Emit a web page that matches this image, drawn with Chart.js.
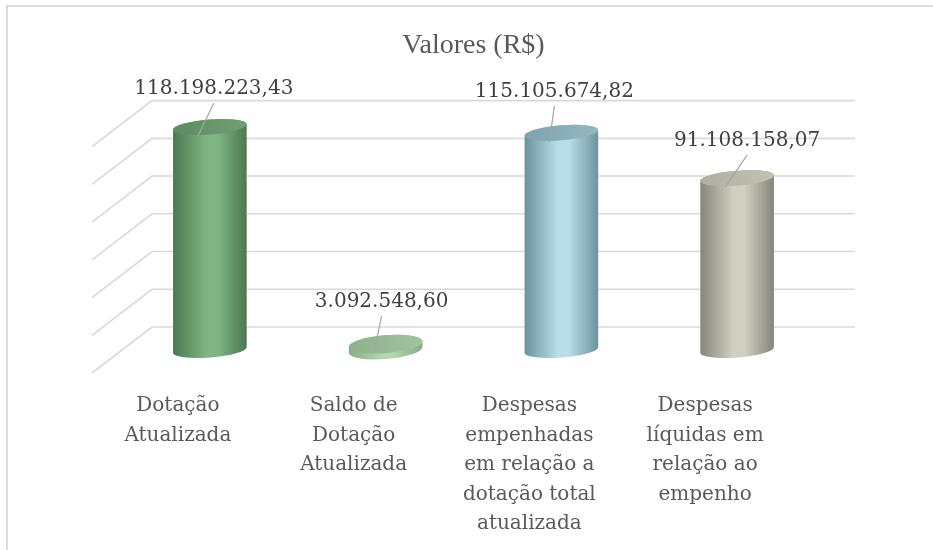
<!DOCTYPE html>
<html lang="pt-BR">
<head>
<meta charset="utf-8">
<title>Valores (R$)</title>
<script src="https://cdn.jsdelivr.net/npm/chart.js@4.4.1/dist/chart.umd.min.js"></script>
<style>
  html, body { margin: 0; padding: 0; background: #fff; }
  #wrap { position: relative; width: 933px; height: 550px; }
</style>
</head>
<body>
<div id="wrap"><canvas id="valoresChart" width="933" height="550"></canvas></div>
<script>
// Dados do gráfico
const categorias = [
    ['Dotação', 'Atualizada'],
    ['Saldo de', 'Dotação', 'Atualizada'],
    ['Despesas', 'empenhadas', 'em relação a', 'dotação total', 'atualizada'],
    ['Despesas', 'líquidas em', 'relação ao', 'empenho']
];
const valores = [118198223.43, 3092548.60, 115105674.82, 91108158.07];
const escalaMin = 0;
const escalaMax = 120000000;
const escalaPasso = 20000000;

// Aparência
const coresCilindro = [
    { borda: '#4b7851', centro: '#7fb585', topo: '#5c8c61', topoClaro: '#6f9f73' },
    { borda: '#86ad86', centro: '#b3d8b1', topo: '#8cb18c', topoClaro: '#9fc49d' },
    { borda: '#6b939e', centro: '#b8dee8', topo: '#7ea3ad', topoClaro: '#93b8c2' },
    { borda: '#85857a', centro: '#cfcfc2', topo: '#afaf9f', topoClaro: '#c2c2b4' }
];
// pequenos ajustes de posição dos rótulos (px), como no original
const ajusteRotulo = [[4, 2], [-4, -2], [-7, -1], [10, 3]];
const profundidade = { dx: 30, dy: 23 };
const GRID_COLOR = '#d9d9d9';

// Formata número no padrão brasileiro: 118.198.223,43
function formatarValor(v) {
    const partes = v.toFixed(2).split('.');
    const inteiro = partes[0].replace(/\B(?=(\d{3})+(?!\d))/g, '.');
    return inteiro + ',' + partes[1];
}

// Moldura (somente topo e esquerda ficam visíveis)
const moldura = {
    id: 'moldura',
    beforeDraw(chart) {
        const ctx = chart.ctx;
        ctx.save();
        ctx.fillStyle = '#ffffff';
        ctx.fillRect(0, 0, chart.width, chart.height);
        ctx.strokeStyle = '#d9d9d9';
        ctx.lineWidth = 2;
        ctx.beginPath();
        ctx.moveTo(7, chart.height + 2);
        ctx.lineTo(7, 6);
        ctx.lineTo(chart.width + 2, 6);
        ctx.stroke();
        ctx.restore();
    }
};

// Linhas de grade em perspectiva (parede de fundo + diagonal lateral)
const grade3d = {
    id: 'grade3d',
    beforeDatasetsDraw(chart) {
        const { ctx, chartArea } = chart;
        const y = chart.scales.y;
        ctx.save();
        ctx.strokeStyle = GRID_COLOR;
        ctx.lineWidth = 1.6;
        for (let v = escalaMin; v <= escalaMax; v += escalaPasso) {
            const py = y.getPixelForValue(v);
            ctx.beginPath();
            ctx.moveTo(chartArea.left - profundidade.dx, py + profundidade.dy);
            ctx.lineTo(chartArea.left + profundidade.dx, py - profundidade.dy);
            ctx.lineTo(chartArea.right + profundidade.dx, py - profundidade.dy);
            ctx.stroke();
        }
        ctx.restore();
    }
};

// Cilindros desenhados sobre as barras (posições vêm das escalas do Chart.js)
const cilindros = {
    id: 'cilindros',
    afterDatasetsDraw(chart) {
        const ctx = chart.ctx;
        const meta = chart.getDatasetMeta(0);
        const rot = -0.08;
        const ry = 7.5;
        meta.data.forEach((bar, i) => {
            const cor = coresCilindro[i];
            const cx = bar.x;
            const rx = bar.width / 2;
            const topo = bar.y;
            const base = bar.base;
            const raioY = (base - topo) < 20 ? 9 : ry;
            const cosR = Math.cos(rot), sinR = Math.sin(rot);

            ctx.save();
            // corpo
            const grad = ctx.createLinearGradient(cx - rx, 0, cx + rx, 0);
            grad.addColorStop(0, cor.borda);
            grad.addColorStop(0.45, cor.centro);
            grad.addColorStop(0.6, cor.centro);
            grad.addColorStop(1, cor.borda);
            ctx.fillStyle = grad;
            ctx.beginPath();
            ctx.moveTo(cx + rx * cosR, topo + rx * sinR);
            ctx.lineTo(cx + rx * cosR, base + rx * sinR);
            ctx.ellipse(cx, base, rx, raioY, rot, 0, Math.PI, false);
            ctx.lineTo(cx - rx * cosR, topo - rx * sinR);
            ctx.ellipse(cx, topo, rx, raioY, rot, Math.PI, 0, false);
            ctx.closePath();
            ctx.fill();

            // tampa
            const gradTopo = ctx.createLinearGradient(cx - rx, 0, cx + rx, 0);
            gradTopo.addColorStop(0, cor.topo);
            gradTopo.addColorStop(1, cor.topoClaro);
            ctx.fillStyle = gradTopo;
            ctx.beginPath();
            ctx.ellipse(cx, topo, rx, raioY, rot, 0, Math.PI * 2);
            ctx.fill();

            // rótulo de dados com linha de chamada
            const lx = cx + ajusteRotulo[i][0];
            const ly = topo - 35 + ajusteRotulo[i][1];
            ctx.strokeStyle = '#a6a6a6';
            ctx.lineWidth = 1.2;
            ctx.beginPath();
            ctx.moveTo(lx, ly + 9);
            ctx.lineTo(cx - 12, topo + 9);
            ctx.stroke();

            ctx.fillStyle = '#404040';
            ctx.font = '20px "DejaVu Serif"';
            ctx.textAlign = 'center';
            ctx.textBaseline = 'alphabetic';
            ctx.fillText(formatarValor(valores[i]), lx, ly);
            ctx.restore();
        });
    }
};

const ctx = document.getElementById('valoresChart').getContext('2d');
const valoresChart = new Chart(ctx, {
    type: 'bar',
    data: {
        labels: categorias,
        datasets: [{
            label: 'Valores (R$)',
            data: valores,
            backgroundColor: 'rgba(0,0,0,0)',
            borderWidth: 0,
            barPercentage: 0.42,
            categoryPercentage: 1
        }]
    },
    options: {
        responsive: false,
        animation: false,
        layout: {
            padding: { left: 122, right: 108, top: 7, bottom: 0 }
        },
        plugins: {
            legend: { display: false },
            tooltip: { enabled: false },
            title: {
                display: true,
                text: 'Valores (R$)',
                color: '#595959',
                font: { family: 'Liberation Serif', size: 28, weight: 'normal', lineHeight: 1.2 },
                padding: { top: 22, bottom: 61 }
            }
        },
        scales: {
            x: {
                grid: { display: false, drawTicks: false },
                border: { display: false },
                ticks: {
                    color: '#595959',
                    font: { family: 'DejaVu Serif', size: 20, lineHeight: 1.48 },
                    padding: 41,
                    labelOffset: -32,
                    maxRotation: 0,
                    autoSkip: false
                },
                afterFit(scale) {
                    scale.height = 200;
                }
            },
            y: {
                display: false,
                min: escalaMin,
                max: escalaMax,
                ticks: { stepSize: escalaPasso }
            }
        }
    },
    plugins: [moldura, grade3d, cilindros]
});
</script>
</body>
</html>
